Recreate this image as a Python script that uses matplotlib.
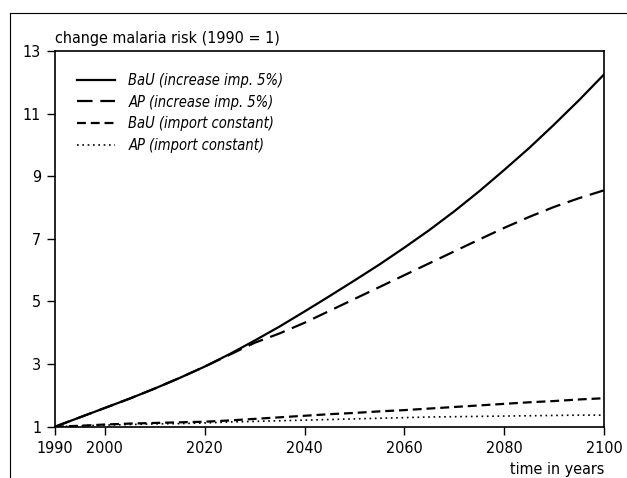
import matplotlib
matplotlib.use('Agg')
import matplotlib.pyplot as plt
from matplotlib.lines import Line2D

plt.rcParams['font.family'] = ['DejaVu Sans']
plt.rcParams['font.stretch'] = 'condensed'

years = [1990, 1995, 2000, 2005, 2010, 2015, 2020, 2025, 2030, 2035, 2040, 2045,
         2050, 2055, 2060, 2065, 2070, 2075, 2080, 2085, 2090, 2095, 2100]
bau_increase = [1.0, 1.3, 1.6, 1.9, 2.22, 2.56, 2.92, 3.32, 3.75, 4.2, 4.68, 5.17,
                5.67, 6.18, 6.72, 7.28, 7.88, 8.52, 9.2, 9.9, 10.65, 11.43, 12.25]
ap_increase = [1.0, 1.3, 1.6, 1.9, 2.22, 2.56, 2.92, 3.3, 3.68, 3.98, 4.32, 4.7,
               5.08, 5.46, 5.84, 6.22, 6.6, 6.98, 7.35, 7.7, 8.02, 8.3, 8.55]
bau_constant = [1.0, 1.03, 1.07, 1.1, 1.12, 1.14, 1.16, 1.2, 1.25, 1.3, 1.35, 1.4,
                1.44, 1.49, 1.53, 1.58, 1.63, 1.68, 1.73, 1.78, 1.82, 1.87, 1.91]
ap_constant = [1.0, 1.03, 1.05, 1.07, 1.09, 1.1, 1.12, 1.15, 1.17, 1.19, 1.21, 1.23,
               1.25, 1.27, 1.29, 1.31, 1.32, 1.33, 1.34, 1.35, 1.36, 1.37, 1.37]

labels = ['BaU (increase imp. 5%)', 'AP (increase imp. 5%)',
          'BaU (import constant)', 'AP (import constant)']
xticks = [1990, 2000, 2020, 2040, 2060, 2080, 2100]
yticks = [1, 3, 5, 7, 9, 11, 13]

fig = plt.figure(figsize=(6.27, 4.78), dpi=100)
ax = fig.add_axes([0.0877, 0.1073, 0.8756, 0.786])

ax.plot(years, bau_increase, color='black', lw=1.6, label=labels[0])
ax.plot(years, ap_increase, color='black', lw=1.6, dashes=(7, 3.5), label=labels[1])
ax.plot(years, bau_constant, color='black', lw=1.6, dashes=(4, 2.2), label=labels[2])
ax.plot(years, ap_constant, color='black', lw=1.2, dashes=(1, 2.2), label=labels[3])

ax.set_xlim(1990, 2100)
ax.set_ylim(1, 13)
ax.set_xticks(xticks)
ax.set_yticks(yticks)
ax.tick_params(direction='out', length=6, width=1, labelsize=11.5, pad=4)
for s in ax.spines.values():
    s.set_linewidth(1.2)

ax.text(0, 1.012, 'change malaria risk (1990 = 1)', transform=ax.transAxes,
        ha='left', va='bottom', fontsize=11.5)
ax.text(1.0, -0.095, 'time in years', transform=ax.transAxes,
        ha='right', va='top', fontsize=11.5)

leg = ax.legend(loc='upper left', bbox_to_anchor=(0.03, 0.957), frameon=False,
                handlelength=2.6, handletextpad=0.9, labelspacing=0.45,
                borderaxespad=0.0, prop={'style': 'italic', 'size': 10.5})

# scan frame around the figure
fig.add_artist(Line2D([10 / 627, 1.0], [1 - 13 / 478, 1 - 13 / 478],
                      transform=fig.transFigure, color='black', lw=0.8))
fig.add_artist(Line2D([10 / 627, 10 / 627], [0, 1 - 13 / 478],
                      transform=fig.transFigure, color='black', lw=0.8))

fig.savefig('out.png', dpi=100)
